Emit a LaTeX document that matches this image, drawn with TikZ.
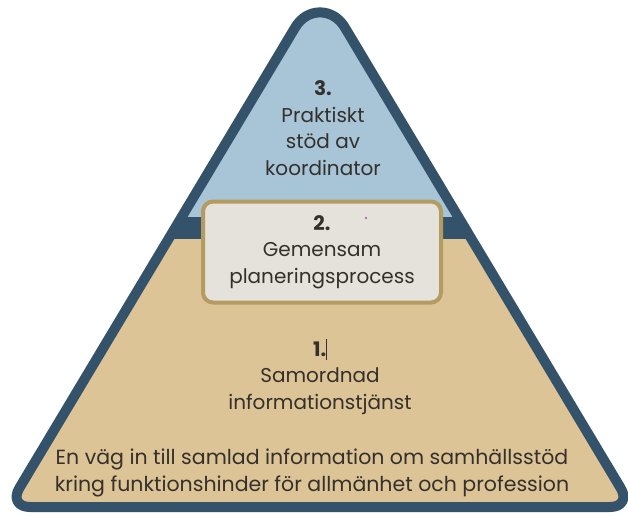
\documentclass[tikz,border=0pt]{standalone}
\usepackage{fontspec}
\setmainfont{Poppins}
\usetikzlibrary{calc}
\definecolor{pyrblue}{RGB}{168,197,215}
\definecolor{pyrtan}{RGB}{221,196,150}
\definecolor{pyredge}{RGB}{52,82,106}
\definecolor{boxfill}{RGB}{229,225,219}
\definecolor{boxedge}{RGB}{180,155,95}
\definecolor{txtdark}{RGB}{52,48,44}
% outline of the pyramid, rounded top
\newcommand{\pyrpath}{($(bl)!0.5!(br)$) [rounded corners=22pt] -- (bl) -- ($(apex)!70pt!(bl)$) .. controls ($(apex)!25pt!(bl)$) and ($(apex)!25pt!(br)$) .. ($(apex)!70pt!(br)$) -- (br) -- cycle}
\tikzset{
  level/.style={align=center, text=txtdark, font=\fontsize{20}{26.5}\selectfont},
  midbox/.style={draw=boxedge, line width=4pt, fill=boxfill, rounded corners=10pt,
    minimum width=238pt, minimum height=101pt, inner sep=0pt}
}
\begin{document}
\begin{tikzpicture}[x=1pt,y=-1pt]
	\useasboundingbox (0,0) rectangle (628,515);
	\coordinate (apex) at (320,-14);
	\coordinate (bl) at (8,507);
	\coordinate (br) at (632,507);
	\begin{scope}
		\clip \pyrpath;
		\fill[pyrblue] (0,-20) rectangle (640,217);
		\fill[pyredge] (0,217) rectangle (640,239);
		\fill[pyrtan] (0,239) rectangle (640,520);
	\end{scope}
	\draw[pyredge, line width=10pt, line join=round] \pyrpath;
	\node[level] (koord) at (323,128) {\textbf{3.}\\Praktiskt\\stöd av\\koordinator};
	\node[midbox, level] (plan) at (322,252) {\textbf{2.}\\Gemensam\\planeringsprocess};
	\fill[violet!70] (366,218) circle (1.2pt);
	\node[level] (info) at (320,377) {\textbf{1.}\rule[-4pt]{0.6pt}{21pt}\\Samordnad\\informationstjänst};
	\node[level, font=\fontsize{20.5}{27}\selectfont] (vag) at (312,473) {En väg in till samlad information om samhällsstöd\\kring funktionshinder för allmänhet och profession};
\end{tikzpicture}
\end{document}
